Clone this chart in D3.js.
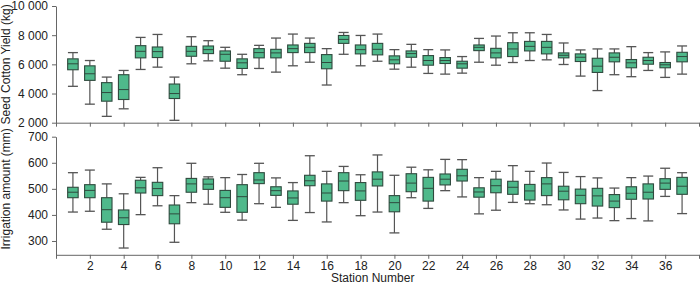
<!DOCTYPE html>
<html><head><meta charset="utf-8">
<script src="https://cdn.jsdelivr.net/npm/d3@7"></script>
<style>
body{margin:0;background:#fff;}
text{font-family:"Liberation Sans",Arial,sans-serif;}
</style></head>
<body><svg id="c" width="700" height="285"></svg>
<script>
const stations = d3.range(1, 38);
const xTicks = d3.range(0, 39, 2);
const xTickLabels = d3.range(2, 37, 2);
// Seed cotton yield (kg): [min, q1, median, q3, max]
const yieldMin = [4494,3271,2435,2952,5650,5808,2163,6037,6241,5738,5290,5718,5467,5901,6146,4583,6690,5901,6214,5670,5806,5378,5330,5398,6146,5942,6126,6262,6309,5990,5195,4202,5290,5154,5582,5106,5330];
const yieldQ1  = [5629,4902,3475,3590,6445,6466,3658,6554,6737,6214,5718,6445,6445,6805,6805,5697,7438,6717,6649,6037,6486,5942,6058,5738,6941,6445,6534,6921,6717,6445,6194,5446,6173,5765,6010,5765,6173];
const yieldMed = [6037,5355,4066,4270,6894,6873,3998,6894,7009,6690,6105,6805,6785,7077,7166,6126,7709,7009,7030,6309,6737,6262,6262,6037,7166,6785,7057,7234,7166,6622,6486,5874,6486,6105,6262,5969,6534];
const yieldQ3  = [6377,5898,4746,5290,7281,7190,4651,7234,7259,6921,6377,7077,7030,7329,7438,6669,7981,7329,7438,6581,6921,6601,6466,6214,7329,7098,7485,7574,7574,6785,6717,6418,6785,6330,6486,6126,6826];
const yieldMax = [6805,6262,5127,5582,7847,8050,5127,7893,7621,7168,6690,7302,7802,8076,7802,7077,8186,7981,8076,7009,7371,7009,6989,6534,7778,7940,8165,8165,8050,7465,6989,7057,7057,7213,6805,6853,7261];
// Irrigation amount (mm)
const irrMin = [411,414,345,273,401,435,295,447,441,410,380,443,429,379,409,373,447,397,411,331,466,425,493,469,404,418,448,443,439,419,384,388,378,386,377,471,405];
const irrQ1  = [466,466,372,363,484,474,366,487,498,429,410,520,475,441,512,453,493,456,511,412,489,453,515,530,468,485,479,457,474,458,443,434,428,460,461,498,479];
const irrMed = [487,494,420,389,504,501,404,519,518,466,470,534,493,465,531,484,530,492,537,447,522,502,537,550,488,512,506,492,519,491,475,473,453,483,487,522,510];
const irrQ3  = [506,516,466,419,533,525,438,540,538,494,516,562,508,492,552,519,562,524,565,474,558,544,557,575,504,537,529,517,543,510,499,502,478,508,519,539,544];
const irrMax = [562,572,519,481,544,581,474,598,546,543,555,598,542,524,627,567,586,554,630,552,583,573,613,612,543,567,589,567,599,563,547,542,503,543,549,579,562];
const yieldTicks = [2000,4000,6000,8000,10000];
const irrTicks = [300,400,500,600,700];

const svg = d3.select("#c");
const left = 56, right = 699;
const x = d3.scaleLinear().domain([0,38]).range([left, right]);
const fill = "#4fb98b", stroke = "#2f4a3e", whisk = "#555";
const boxW = 10.5, capW = 10;
const fmt = v => d3.format(",")(v).replace(",", " ");

function panel(yScale, ticks, mins, q1s, meds, q3s, maxs, label, showLabels){
  const g = svg.append("g");
  const ya = g.append("g").attr("transform",`translate(${left},0)`)
    .call(d3.axisLeft(yScale).tickValues(ticks).tickSize(4).tickSizeOuter(0).tickFormat(fmt));
  ya.select(".domain").attr("stroke","#666");
  ya.selectAll(".tick line").attr("stroke","#666");
  ya.selectAll("text").attr("font-size",12).attr("fill","#222").attr("dx","-1");
  const y0 = yScale.range()[0];
  const xa = g.append("g").attr("transform",`translate(0,${y0})`)
    .call(d3.axisBottom(x).tickValues(xTicks).tickSize(4).tickSizeOuter(0)
      .tickFormat(d => showLabels && xTickLabels.includes(d) ? d : ""));
  xa.select(".domain").attr("stroke","#666");
  xa.selectAll(".tick line").attr("stroke","#666");
  xa.selectAll("text").attr("font-size",12).attr("fill","#222");
  const cy = (yScale(ticks[0]) + yScale(ticks[ticks.length-1]))/2;
  g.append("text").attr("transform",`translate(10,${cy}) rotate(-90)`)
    .attr("text-anchor","middle").attr("font-size",12).attr("fill","#222").text(label);
  const bx = g.selectAll("g.box").data(stations).enter().append("g");
  bx.append("line").attr("x1",d=>x(d)).attr("x2",d=>x(d))
    .attr("y1",(d,i)=>yScale(maxs[i])).attr("y2",(d,i)=>yScale(q3s[i])).attr("stroke",whisk).attr("stroke-width",1.2);
  bx.append("line").attr("x1",d=>x(d)).attr("x2",d=>x(d))
    .attr("y1",(d,i)=>yScale(q1s[i])).attr("y2",(d,i)=>yScale(mins[i])).attr("stroke",whisk).attr("stroke-width",1.2);
  bx.append("line").attr("x1",d=>x(d)-capW/2).attr("x2",d=>x(d)+capW/2)
    .attr("y1",(d,i)=>yScale(maxs[i])).attr("y2",(d,i)=>yScale(maxs[i])).attr("stroke",whisk).attr("stroke-width",1.3);
  bx.append("line").attr("x1",d=>x(d)-capW/2).attr("x2",d=>x(d)+capW/2)
    .attr("y1",(d,i)=>yScale(mins[i])).attr("y2",(d,i)=>yScale(mins[i])).attr("stroke",whisk).attr("stroke-width",1.3);
  bx.append("rect").attr("x",d=>x(d)-boxW/2).attr("width",boxW)
    .attr("y",(d,i)=>yScale(q3s[i])).attr("height",(d,i)=>yScale(q1s[i])-yScale(q3s[i]))
    .attr("fill",fill).attr("stroke",stroke).attr("stroke-width",1.1);
  bx.append("line").attr("x1",d=>x(d)-boxW/2).attr("x2",d=>x(d)+boxW/2)
    .attr("y1",(d,i)=>yScale(meds[i])).attr("y2",(d,i)=>yScale(meds[i])).attr("stroke",stroke).attr("stroke-width",1);
}

const yTop = d3.scaleLinear().domain([2000,10000]).range([122.7,6]);
const yBot = d3.scaleLinear().domain([247,700]).range([254.8,136.7]);
panel(yTop, yieldTicks, yieldMin, yieldQ1, yieldMed, yieldQ3, yieldMax, "Seed Cotton Yield (kg)", false);
panel(yBot, irrTicks, irrMin, irrQ1, irrMed, irrQ3, irrMax, "Irrigation amount (mm)", true);
svg.append("text").attr("x",372.7).attr("y",282).attr("text-anchor","middle")
  .attr("font-size",12).attr("fill","#222").text("Station Number");
</script></body></html>
